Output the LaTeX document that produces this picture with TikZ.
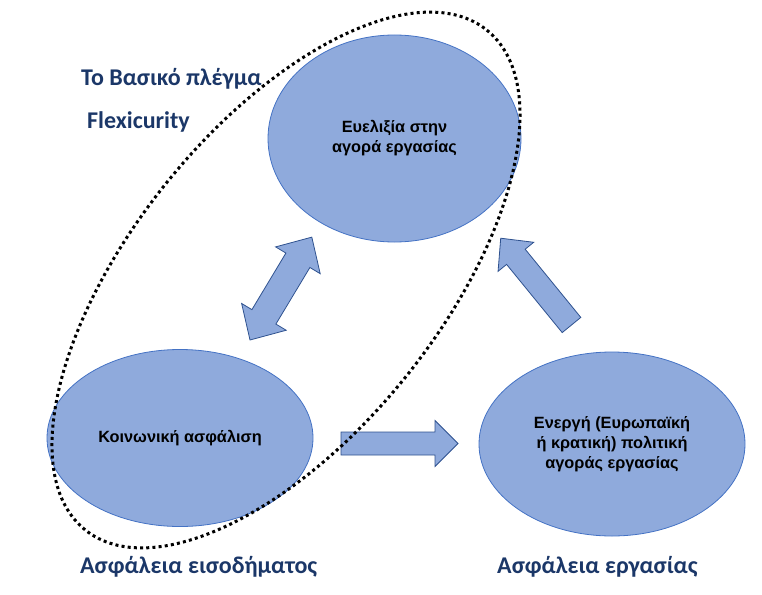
\documentclass[tikz,border=0pt]{standalone}
\usepackage{fontspec}
\setmainfont{Liberation Sans}
\newfontfamily\calfont{Carlito}
\usetikzlibrary{positioning, shapes.geometric}
\definecolor{bubblefill}{HTML}{8FAADC}
\definecolor{bubbleedge}{HTML}{4472C4}
\definecolor{arrowedge}{HTML}{2F528F}
\definecolor{navy}{HTML}{1B3768}

\tikzset{
  pics/blockarr/.style n args={4}{code={% length, shaft, head width, head length
    \draw[arrowbody] (0,{-#2/2}) -- ({#1-#4},{-#2/2}) -- ({#1-#4},{-#3/2}) -- (#1,0)
      -- ({#1-#4},{#3/2}) -- ({#1-#4},{#2/2}) -- (0,{#2/2}) -- cycle;
  }},
  pics/doublearr/.style n args={4}{code={%
    \draw[arrowbody] (0,0) -- (#4,{-#3/2}) -- (#4,{-#2/2}) -- ({#1-#4},{-#2/2}) -- ({#1-#4},{-#3/2})
      -- (#1,0) -- ({#1-#4},{#3/2}) -- ({#1-#4},{#2/2}) -- (#4,{#2/2}) -- (#4,{#3/2}) -- cycle;
  }}
}

\begin{document}
\begin{tikzpicture}[x=1pt, y=-1pt,
  bubble/.style={ellipse, draw=bubbleedge, line width=0.8pt, fill=bubblefill,
    align=center, inner sep=0pt, font=\bfseries\fontsize{16.3}{20}\selectfont},
  arrowbody/.style={fill=bubblefill, draw=arrowedge, line width=0.8pt, line join=miter},
  bluelabel/.style={anchor=west, inner sep=0pt, text=navy, font=\calfont\bfseries\fontsize{24}{28}\selectfont},
  dotline/.style={line width=3pt, dash pattern=on 3pt off 3.2pt}]
  \useasboundingbox (0,0) rectangle (762,594);

  % the three bubbles
  \node[bubble, minimum width=253, minimum height=207] (flex) at (394.5,138.5)
    {Ευελιξία στην\\αγορά εργασίας};
  \node[bubble, minimum width=266, minimum height=177] (social) at (180,438)
    {\raisebox{4pt}{Κοινωνική ασφάλιση}};
  \node[bubble, minimum width=266, minimum height=184] (almp) at (612,444)
    {Ενεργή (Ευρωπαϊκή\\ή κρατική) πολιτική\\αγοράς εργασίας};

  % block arrows between them
  \pic[rotate=59]    at (250,340)   {doublearr={120}{28}{52}{27}};
  \pic[rotate=0]     at (341,443.5) {blockarr={117}{23}{46}{23}};
  \pic[rotate=129.2] at (571.5,325) {blockarr={112}{24}{46}{24}};

  % dotted ring round the basic grid
  \draw[dotline, rotate around={51.2:(286,280)}] (286,280) ellipse [x radius=320.6, y radius=154];

  % labels
  \node[bluelabel] (title)     at (81,79)   {Το Βασικό πλέγμα};
  \node[bluelabel] (subtitle)  at (87,122)  {Flexicurity};
  \node[bluelabel] (incomelbl) at (80,567)  {Ασφάλεια εισοδήματος};
  \node[bluelabel] (joblbl)    at (497,567) {Ασφάλεια εργασίας};
\end{tikzpicture}
\end{document}
